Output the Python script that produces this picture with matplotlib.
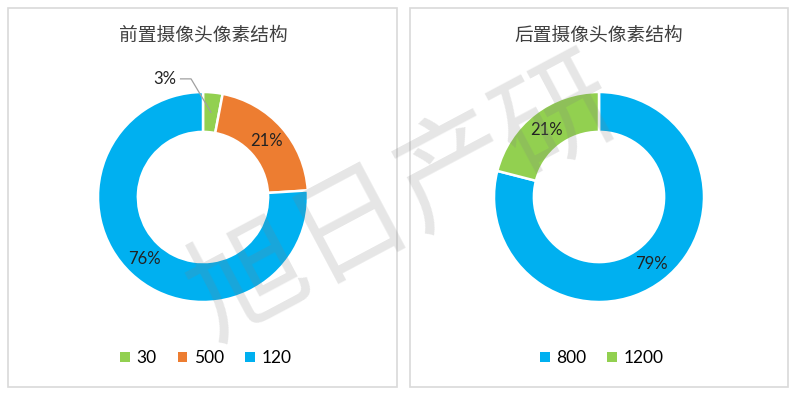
import numpy as np
import matplotlib
matplotlib.use("Agg")
import matplotlib.pyplot as plt
from matplotlib.patches import Patch, Rectangle

plt.rcParams["font.family"] = ["Lato", "Noto Sans CJK SC", "DejaVu Sans"]

# data
front_title = "前置摄像头像素结构"
front_labels = ["30", "500", "120"]
front_values = [3, 21, 76]
front_colors = ["#92D050", "#ED7D31", "#00B0F0"]

rear_title = "后置摄像头像素结构"
rear_labels = ["800", "1200"]
rear_values = [79, 21]
rear_colors = ["#00B0F0", "#92D050"]

W, H = 800, 396
RING = 0.38


def fx(px):
    return px / W


def fy(py):
    return 1 - py / H


def draw_donut(fig, cx, cy, r, title, labels, values, colors, outside=()):
    ax = fig.add_axes([fx(cx - r), fy(cy + r), 2 * r / W, 2 * r / H])
    wedges, _ = ax.pie(values, colors=colors, startangle=90, counterclock=False,
                       radius=1.0,
                       wedgeprops=dict(width=RING, edgecolor="white", linewidth=1.8))
    ax.set_xlim(-1, 1)
    ax.set_ylim(-1, 1)
    ax.set_aspect("equal")
    ax.axis("off")
    total = sum(values)
    mid_r = 1 - RING / 2
    for i, (w, v) in enumerate(zip(wedges, values)):
        ang = np.deg2rad((w.theta1 + w.theta2) / 2)
        x, y = mid_r * np.cos(ang), mid_r * np.sin(ang)
        txt = f"{v / total * 100:.0f}%"
        if i in outside:
            # leader line: ring middle -> elbow -> short horizontal
            ex, ey = x - 0.19, 1.125
            ax.plot([x, ex, ex - 0.1], [y, ey, ey], color="#A0A0A0", lw=0.9,
                    clip_on=False, zorder=5)
            ax.text(ex - 0.14, ey, txt, ha="right", va="center", fontsize=12,
                    color="#222222")
        else:
            ax.text(x, y, txt, ha="center", va="center", fontsize=12, color="#222222")
    fig.text(fx(cx), fy(35), title, ha="center", va="center", fontsize=13.5,
             color="#404040", family=["Noto Sans CJK SC", "DejaVu Sans"])
    handles = [Patch(facecolor=c, edgecolor="none", label=l) for c, l in zip(colors, labels)]
    fig.legend(handles=handles, loc="center", bbox_to_anchor=(fx(cx + 3), fy(358)),
               ncol=len(labels), frameon=False, fontsize=12.5, handlelength=0.55,
               handleheight=0.55, handletextpad=0.4, columnspacing=1.2)


fig = plt.figure(figsize=(W / 100, H / 100), dpi=100)
fig.patch.set_facecolor("white")

for x0, x1 in [(8, 397), (410, 788)]:
    fig.add_artist(Rectangle((fx(x0), fy(387)), (x1 - x0) / W, 379 / H,
                             transform=fig.transFigure, fill=False,
                             edgecolor="#D9D9D9", linewidth=1.2))

draw_donut(fig, 203, 197, 105, front_title, front_labels, front_values, front_colors,
           outside=(0,))
draw_donut(fig, 599, 197, 105, rear_title, rear_labels, rear_values, rear_colors)

fig.text(fx(405), fy(200), "旭日产研", ha="center", va="center", fontsize=84,
         rotation=28, color="#808080", alpha=0.2, zorder=20,
         family=["Noto Sans CJK SC"])

fig.savefig("out.png", dpi=100, facecolor="white")
